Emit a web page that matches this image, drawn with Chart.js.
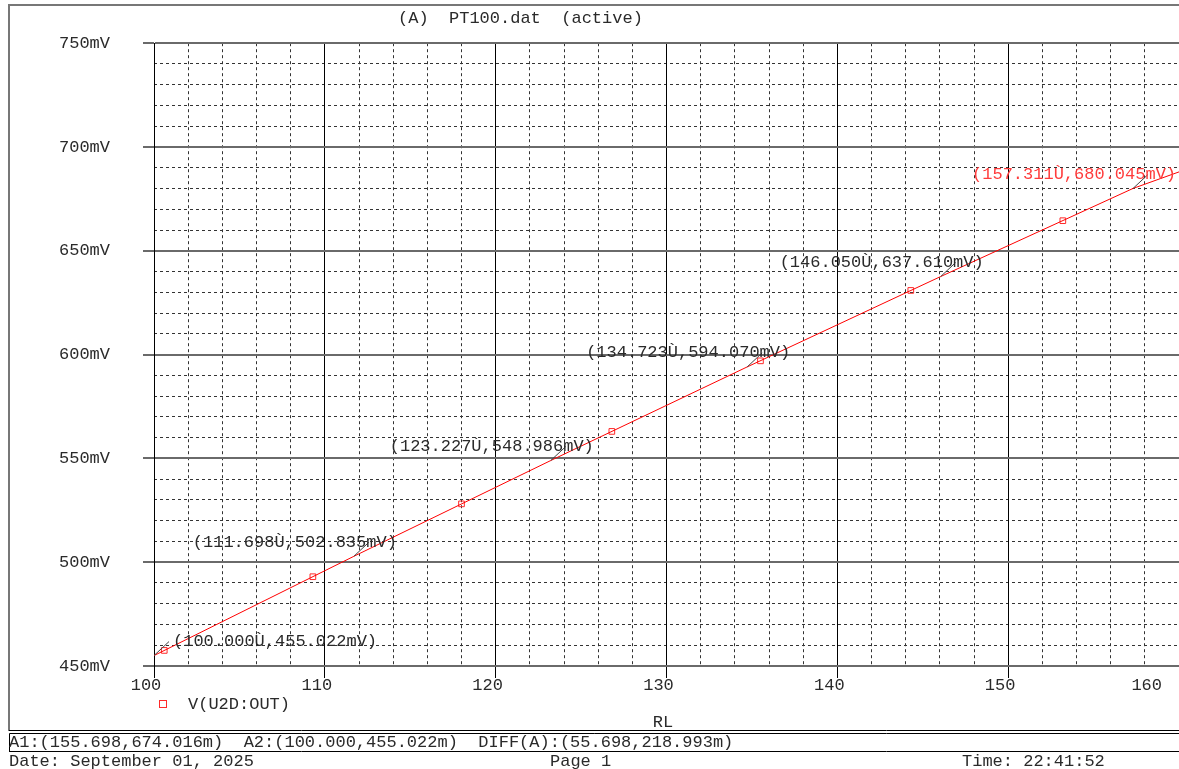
<!DOCTYPE html>
<html>
<head>
<meta charset="utf-8">
<title>PT100.dat</title>
<script src="https://cdn.jsdelivr.net/npm/chart.js@4.4.1/dist/chart.umd.min.js"></script>
<style>
  html, body { margin: 0; padding: 0; background: #fff; overflow: hidden; }
  canvas { display: block; }
</style>
</head>
<body>
<canvas id="plot" width="1179" height="769"></canvas>
<script>
// RL sweep (ohms) against V(U2D:OUT) in mV
const curveRL = [100.000, 111.698, 123.227, 134.723, 146.050, 157.311, 160.000];
const curveMV = [455.022, 502.835, 548.986, 594.070, 637.610, 680.045, 688.000];

// marker squares along the trace
const markerRL = [100.6, 109.3, 118.0, 126.8, 135.5, 144.3, 153.2];
const markerMV = [457.5, 493.0, 528.1, 563.0, 597.0, 630.9, 664.5];

// cursor labels
const cursorRL = [100.000, 111.698, 123.227, 134.723, 146.050, 157.311];
const cursorMV = [455.022, 502.835, 548.986, 594.070, 637.610, 680.045];

const xTicks = [100, 110, 120, 130, 140, 150, 160];
const yTicks = [450, 500, 550, 600, 650, 700, 750];

const traceName = "V(U2D:OUT)";
const titleText = "(A)  PT100.dat  (active)";
const xAxisName = "RL";
const cursorLine = "A1:(155.698,674.016m)  A2:(100.000,455.022m)  DIFF(A):(55.698,218.993m)";
const dateText = "Date: September 01, 2025";
const pageText = "Page 1";
const timeText = "Time: 22:41:52";

const MONO = "'Liberation Mono', 'Courier New', monospace";
const TEXT = "#2a2a2a";
const RED = "#ff0000";

// Frame, title, footer and cursor labels (PSpice probe look).
const probeDecor = {
    id: "probeDecor",
    beforeDraw(chart) {
        const c = chart.ctx;
        const w = chart.width;
        c.save();
        c.fillStyle = "#fff";
        c.fillRect(0, 0, w, chart.height);

        // outer window frame
        c.strokeStyle = "#777";
        c.lineWidth = 2;
        c.beginPath();
        c.moveTo(w + 5, 5);
        c.lineTo(9, 5);
        c.lineTo(9, 731);
        c.stroke();

        // double line + cursor box
        c.strokeStyle = "#000";
        c.lineWidth = 1;
        c.beginPath();
        c.moveTo(9, 730.5); c.lineTo(w, 730.5);
        c.moveTo(9.5, 733.5); c.lineTo(w, 733.5);
        c.moveTo(9.5, 733.5); c.lineTo(9.5, 751.5);
        c.moveTo(9, 751.5); c.lineTo(w, 751.5);
        c.stroke();
        c.restore();
    },
    afterDraw(chart) {
        const c = chart.ctx;
        const x = chart.scales.x;
        const y = chart.scales.y;
        const area = chart.chartArea;
        c.save();
        c.font = "17px " + MONO;
        c.textBaseline = "middle";
        c.fillStyle = TEXT;

        // title
        c.textAlign = "left";
        c.fillText(titleText, 398, 18);

        // x tick labels, pulled left like the probe window does
        x.ticks.forEach((t) => {
            const label = String(t.value);
            const lw = c.measureText(label).width;
            let cx = x.getPixelForValue(t.value) - 8;
            if (cx + lw / 2 > chart.width - 17) cx = chart.width - 17 - lw / 2;
            c.textAlign = "center";
            c.fillText(label, cx, 685);
        });

        // legend
        const ds = chart.data.datasets[1];
        c.strokeStyle = ds.borderColor;
        c.lineWidth = 1;
        c.strokeRect(159.5, 700.5, 7, 7);
        c.textAlign = "left";
        c.fillStyle = TEXT;
        c.fillText(traceName, 188, 704);

        // axis name
        c.textAlign = "center";
        c.fillText(xAxisName, 663, 722);

        // footer
        c.textAlign = "left";
        c.fillText(cursorLine, 9, 742);
        c.fillText(dateText, 9, 761);
        c.fillText(pageText, 550, 761);
        c.fillText(timeText, 962, 761);

        // cursor labels with leader lines
        cursorRL.forEach((rl, i) => {
            const px = x.getPixelForValue(rl);
            const py = y.getPixelForValue(cursorMV[i]);
            const label = "(" + rl.toFixed(3) + "Ù," + cursorMV[i].toFixed(3) + "mV)";
            const lw = c.measureText(label).width;
            let left = px + 43 - lw;
            if (left < area.left) left = px + 19;

            c.strokeStyle = "#444";
            c.lineWidth = 1;
            c.beginPath();
            c.moveTo(px, py);
            c.lineTo(px + 15, py - 14);
            c.stroke();

            c.fillStyle = i === cursorRL.length - 1 ? "#ff3b3b" : TEXT;
            c.textAlign = "left";
            c.fillText(label, left, py - 14);
        });
        c.restore();
    },
};

const minorColor = (step) => (ctx) =>
    ctx.tick && ctx.tick.value % step === 0 ? "rgba(0,0,0,0)" : "#333";

const ctx = document.getElementById("plot").getContext("2d");
new Chart(ctx, {
    type: "scatter",
    data: {
        datasets: [
            {
                label: traceName,
                data: curveRL.map((v, i) => ({ x: v, y: curveMV[i] })),
                showLine: true,
                borderColor: RED,
                borderWidth: 1,
                pointRadius: 0,
                tension: 0,
            },
            {
                label: traceName + " markers",
                data: markerRL.map((v, i) => ({ x: v, y: markerMV[i] })),
                showLine: false,
                pointStyle: "rect",
                pointRadius: 4,
                borderColor: "#ff2a2a",
                backgroundColor: "rgba(0,0,0,0)",
                borderWidth: 1,
            },
        ],
    },
    options: {
        responsive: false,
        animation: false,
        layout: { autoPadding: false, padding: { top: 42, right: 0, bottom: 0, left: 0 } },
        plugins: { legend: { display: false }, tooltip: { enabled: false } },
        scales: {
            xMinor: {
                type: "linear",
                position: "bottom",
                min: 100,
                max: 160,
                ticks: { stepSize: 2, display: false },
                grid: { color: minorColor(10), lineWidth: 1, drawTicks: false },
                border: { display: false, dash: [3, 3] },
                afterFit(s) { s.height = 0; },
            },
            yMinor: {
                type: "linear",
                position: "left",
                min: 450,
                max: 750,
                ticks: { stepSize: 10, display: false },
                grid: { color: minorColor(50), lineWidth: 1, drawTicks: false },
                border: { display: false, dash: [3, 3] },
                afterFit(s) { s.width = 0; },
            },
            x: {
                type: "linear",
                position: "bottom",
                min: 100,
                max: 160,
                afterBuildTicks(s) { s.ticks = xTicks.map((v) => ({ value: v })); },
                ticks: { display: false },
                grid: { color: "#000", lineWidth: 1, tickLength: 12, tickColor: "#000" },
                border: { display: false },
                afterFit(s) { s.height = 103; },
            },
            y: {
                type: "linear",
                position: "left",
                min: 450,
                max: 750,
                afterBuildTicks(s) { s.ticks = yTicks.map((v) => ({ value: v })); },
                ticks: {
                    color: TEXT,
                    font: { family: MONO, size: 17 },
                    padding: 33,
                    callback: (v) => v + "mV",
                },
                grid: { color: "#6a6a6a", lineWidth: 2, tickLength: 11 },
                border: { display: true, color: "#000", width: 1 },
                afterFit(s) { s.width = 154; },
            },
        },
    },
    plugins: [probeDecor],
});
</script>
</body>
</html>
